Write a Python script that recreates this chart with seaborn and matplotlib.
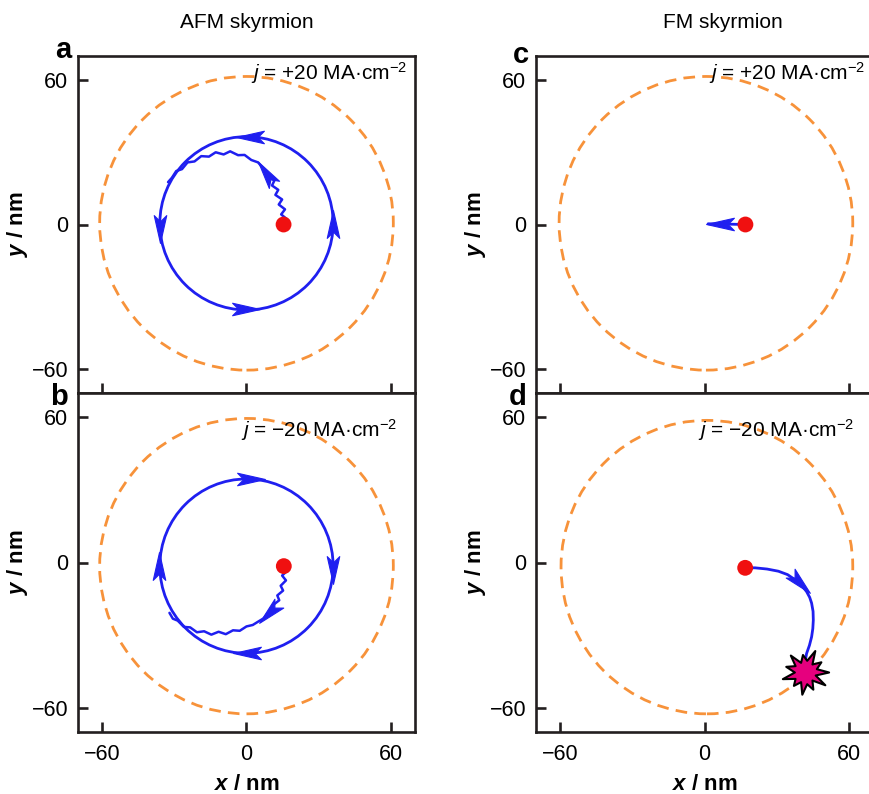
import numpy as np
import pandas as pd
import matplotlib
matplotlib.use("Agg")
import matplotlib.pyplot as plt
import seaborn as sns
from matplotlib.patches import Circle
from matplotlib.markers import MarkerStyle
from matplotlib.path import Path
from matplotlib.transforms import Affine2D

# ---------------- data ----------------
col_titles = ["AFM skyrmion", "FM skyrmion"]
panel_letters = ["a", "b", "c", "d"]
currents = ["+20", "\u221220", "+20", "\u221220"]
ticks = [-60, 0, 60]

# boundary (orange dashed) circles: centre x, centre y, radius per panel
bound_cx = [0.0, 0.0, 0.6, 1.0]
bound_cy = [0.5, -1.5, 0.5, -1.9]
bound_r = [61.0, 61.0, 61.0, 60.6]

# skyrmion start positions (red dots)
start_x = [15.4, 15.5, 17.0, 16.9]
start_y = [0.0, -1.5, 0.0, -2.2]

# steady orbits (AFM panels): centre x, centre y, radius
orbit_cx = [0.0, 0.0]
orbit_cy = [0.5, -1.5]
orbit_r = [36.0, 36.0]

# transient trajectories
traj_a_x = [15.4, 16.8, 14.4, 16.0, 13.4, 14.8, 12.0, 13.2, 10.6, 11.6, 9.0, 8.4, 6.5, 4.8,
            2.0, -0.8, -3.5, -6.8, -9.5, -12.8, -15.6, -18.8, -21.6, -24.5, -26.8, -29.2, -31.0, -32.6]
traj_a_y = [0.0, 2.2, 4.2, 6.3, 8.3, 10.4, 12.3, 14.4, 16.2, 18.3, 20.0, 22.0, 23.8, 25.8,
            26.8, 28.9, 28.8, 30.4, 29.1, 30.0, 28.2, 28.4, 26.2, 25.8, 23.0, 22.2, 19.4, 17.6]
traj_b_x = [15.5, 16.9, 14.8, 16.4, 14.2, 15.2, 12.8, 13.6, 11.0, 10.8, 8.6, 7.2, 5.2, 2.6,
            0.0, -2.8, -5.6, -8.6, -11.6, -14.6, -17.6, -20.6, -23.4, -26.0, -28.6, -30.6, -32.0]
traj_b_y = [-1.5, -3.4, -5.4, -7.4, -9.6, -11.6, -13.6, -15.6, -17.6, -19.4, -21.2, -23.0, -24.2, -25.8,
            -26.4, -28.2, -28.0, -29.6, -28.6, -29.8, -28.4, -28.8, -26.8, -26.6, -24.0, -23.2, -20.8]
traj_c_x = [17.0, 12.0, 7.0, 1.5]
traj_c_y = [0.0, 0.1, 0.2, 0.3]
traj_d_x = [16.9, 21.0, 26.0, 30.7, 34.5, 37.6, 40.3, 42.4, 43.7, 44.5, 45.1, 45.2, 45.0, 44.5, 43.6, 42.4, 41.9, 41.8]
traj_d_y = [-2.2, -2.2, -2.7, -3.6, -5.0, -7.1, -9.4, -12.0, -14.4, -16.8, -20.2, -23.8, -27.3, -30.7, -34.2, -37.6, -40.5, -43.2]

# arrow heads: (x, y, direction in degrees) per panel
arrows = [
    [(1.5, 36.3, 180), (-36.0, -1.7, 270), (0.0, -35.3, 0), (36.0, 0.4, 90), (8.0, 21.5, 125)],
    [(2.0, 34.4, 0), (36.0, -2.9, 270), (0.4, -37.4, 180), (-36.3, -1.5, 90), (9.3, -21.0, 225)],
    [(6.5, 0.2, 180)],
    [(39.7, -8.5, -45)],
]

# explosion (annihilation) marker in panel d
burst_x = [41.8]
burst_y = [-45.3]
burst_r = [1.0, 0.5, 0.8, 0.45, 1.0, 0.5, 0.75, 0.45, 0.95, 0.5, 0.85, 0.45,
           1.0, 0.5, 0.75, 0.45, 0.95, 0.5, 0.8, 0.45, 1.0, 0.45]

# ---------------- style ----------------
sns.set_style("ticks")
plt.rcParams["font.family"] = ["Liberation Sans", "DejaVu Sans"]
plt.rcParams["text.color"] = "black"
plt.rcParams["axes.labelcolor"] = "black"
plt.rcParams["mathtext.fontset"] = "custom"
plt.rcParams["mathtext.rm"] = "Liberation Sans"
plt.rcParams["mathtext.it"] = "Liberation Sans:italic"
plt.rcParams["mathtext.bf"] = "Liberation Sans:bold"
plt.rcParams["mathtext.bfit"] = "Liberation Sans:bold:italic"

SPINE = "#231f20"
BLUE = "#1f1ff0"
ORANGE = "#f7923a"
RED = "#f01010"
PINK = "#e6007e"

W, H = 869, 794
fig = plt.figure(figsize=(W / 100, H / 100), dpi=100)

def fx(px):
    return px / W

def fy(py):
    return 1 - py / H

ax_w = 337
boxes = [
    (78, 56, 393),   # a
    (78, 393, 732),  # b
    (536, 56, 393),  # c
    (536, 393, 732), # d
]

# stealth arrow head path (tip at +x)
head_verts = [(1.0, 0.0), (-1.0, 0.45), (-0.55, 0.0), (-1.0, -0.45), (1.0, 0.0)]
head_codes = [Path.MOVETO, Path.LINETO, Path.LINETO, Path.LINETO, Path.CLOSEPOLY]
head_path = Path(head_verts, head_codes)

ang = np.linspace(0, 2 * np.pi, len(burst_r), endpoint=False)
burst_path = Path(list(zip(np.array(burst_r) * np.cos(ang), np.array(burst_r) * np.sin(ang))) + [(burst_r[0], 0)],
                  [Path.MOVETO] + [Path.LINETO] * (len(burst_r) - 1) + [Path.CLOSEPOLY])

trajs = [(traj_a_x, traj_a_y), (traj_b_x, traj_b_y), (traj_c_x, traj_c_y), (traj_d_x, traj_d_y)]
text_x = [66.8, 62.7, 66.8, 62.2]
text_y = [63.0, 54.6, 63.0, 54.6]

axes = []
for i, (left, top, bot) in enumerate(boxes):
    ax = fig.add_axes([fx(left), fy(bot), fx(ax_w), (bot - top) / H])
    axes.append(ax)
    ax.set_xlim(-70, 70)
    ax.set_ylim(-70, 70)
    ax.set_facecolor("white")
    for s in ax.spines.values():
        s.set_color(SPINE)
        s.set_linewidth(1.9)
        s.set_visible(True)

    # boundary circle
    ax.add_patch(Circle((bound_cx[i], bound_cy[i]), bound_r[i], fill=False, ec=ORANGE,
                        lw=2.0, ls=(0, (4.2, 2.6)), zorder=2))
    # orbit
    if i < 2:
        ax.add_patch(Circle((orbit_cx[i], orbit_cy[i]), orbit_r[i], fill=False, ec=BLUE,
                            lw=2.0, zorder=3))
    # trajectory
    tx, ty = trajs[i]
    df = pd.DataFrame({"x": tx, "y": ty})
    sns.lineplot(data=df, x="x", y="y", sort=False, estimator=None, color=BLUE,
                 lw=1.8 if i < 2 else 2.0, ax=ax, zorder=3)
    # arrow heads
    for (xa, ya, d) in arrows[i]:
        ms = MarkerStyle(head_path, transform=Affine2D().rotate_deg(d))
        ax.plot([xa], [ya], marker=ms, ms=20, color=BLUE, mec=BLUE, mew=0.8, ls="none", zorder=4)
    # start dot
    sns.scatterplot(x=[start_x[i]], y=[start_y[i]], color=RED, s=130, edgecolor="none",
                    ax=ax, zorder=5)
    if i == 3:
        ax.plot(burst_x, burst_y, marker=burst_path, ms=34, color=PINK, mec="black",
                mew=1.5, ls="none", zorder=6)

    ax.text(text_x[i], text_y[i], "$\\it{j}$ = " + currents[i] + " MA\u00b7cm$^{-2}$",
            ha="right", va="center", fontsize=15, color="black", zorder=7)

    ax.set_xticks(ticks)
    ax.set_yticks(ticks)
    ax.set_yticklabels(["\u221260", "0", "60"])
    ax.set_xticklabels(["\u221260", "0", "60"])
    ax.tick_params(axis="both", direction="in", length=7, width=1.9, color=SPINE,
                   labelsize=15.5, pad=7, labelcolor="black",
                   top=False, right=False, left=True, bottom=True)
    ax.tick_params(axis="x", pad=9)
    if i in (0, 2):
        ax.tick_params(axis="x", labelbottom=False)
        ax.set_xlabel("")
    else:
        ax.set_xlabel(r"$\mathbfit{x}$ / nm", fontsize=16, fontweight="bold", labelpad=6)
    ax.set_ylabel(r"$\mathbfit{y}$ / nm", fontsize=16, fontweight="bold", labelpad=1)
    if ax.get_legend() is not None:
        ax.get_legend().remove()

# column titles
fig.text(fx(247), fy(22), col_titles[0], ha="center", va="center", fontsize=15)
fig.text(fx(723), fy(22), col_titles[1], ha="center", va="center", fontsize=15)

# panel letters
letter_pos = [(63, 50), (59, 397), (521, 55), (518, 397)]
for (px, py), lt in zip(letter_pos, panel_letters):
    fig.text(fx(px), fy(py), lt, ha="center", va="center", fontsize=21, fontweight="bold")

fig.savefig("out.png", dpi=100, facecolor="white")
